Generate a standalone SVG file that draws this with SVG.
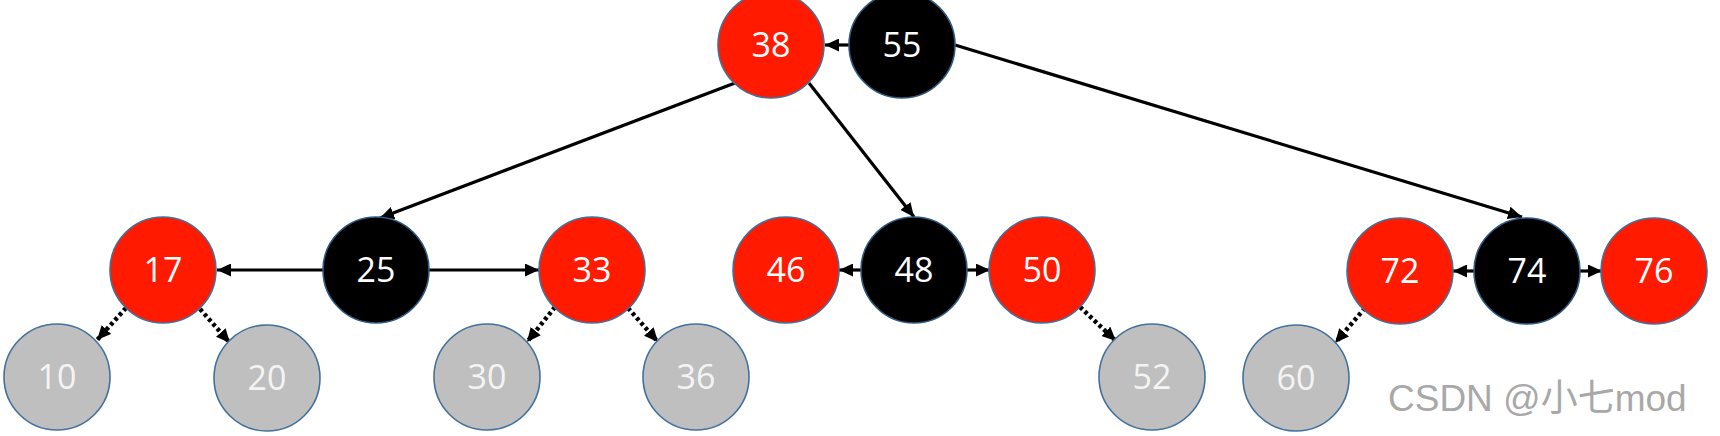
<svg xmlns="http://www.w3.org/2000/svg" width="1720" height="436" viewBox="0 0 1720 436">
<defs>
<style>
.n circle{stroke:#41719c;stroke-width:1.6}
.red circle{fill:#ff1a00}
.blk circle{fill:#000;stroke:#2e5a80}
.gry circle{fill:#bfbfbf}
.n text{font-family:"Open Sans","Noto Sans",sans-serif;font-size:34px;fill:#fff;text-anchor:middle}
.gry text{fill:#f4f4f4}
.e{stroke:#000;stroke-width:3.2;fill:none;marker-end:url(#ah)}
.d{stroke:#000;stroke-width:4.5;fill:none;stroke-dasharray:3.5 3;marker-end:url(#ah)}
.wm{font-family:"Liberation Sans","Noto Sans CJK SC",sans-serif;font-size:37px;fill:#a8a8a8}
</style>
<marker id="ah" markerUnits="userSpaceOnUse" markerWidth="15" markerHeight="13" refX="14" refY="6.5" orient="auto">
<path d="M0,0 L14,6.5 L0,13 z" fill="#000"/>
</marker>
</defs>
<rect width="1720" height="436" fill="#fff"/>
<g id="connectors">
<line class="e" x1="849" y1="45" x2="825" y2="45"/>
<line class="e" x1="735" y1="83" x2="380" y2="218"/>
<line class="e" x1="809" y1="83" x2="914" y2="217"/>
<line class="e" x1="955" y1="45" x2="1522" y2="217"/>
<line class="e" x1="324" y1="270" x2="217" y2="270"/>
<line class="e" x1="428" y1="270" x2="539" y2="270"/>
<line class="e" x1="862" y1="270" x2="839" y2="270"/>
<line class="e" x1="966" y1="270" x2="990" y2="270"/>
<line class="e" x1="1475" y1="271" x2="1453" y2="271"/>
<line class="e" x1="1579" y1="271" x2="1602" y2="271"/>
<line class="d" x1="126" y1="308" x2="97" y2="340"/>
<line class="d" x1="200" y1="309" x2="230" y2="343"/>
<line class="d" x1="555" y1="307" x2="527" y2="342"/>
<line class="d" x1="628" y1="308" x2="658" y2="342"/>
<line class="d" x1="1080" y1="307" x2="1116" y2="341"/>
<line class="d" x1="1365" y1="308" x2="1335" y2="343"/>
</g>
<g id="n38" class="n red"><circle cx="771" cy="45" r="53"/><text x="771" y="57">38</text></g>
<g id="n55" class="n blk"><circle cx="902" cy="45" r="53"/><text x="902" y="57">55</text></g>
<g id="n17" class="n red"><circle cx="163" cy="270" r="53"/><text x="163" y="282">17</text></g>
<g id="n25" class="n blk"><circle cx="376" cy="270" r="53"/><text x="376" y="282">25</text></g>
<g id="n33" class="n red"><circle cx="592" cy="270" r="53"/><text x="592" y="282">33</text></g>
<g id="n46" class="n red"><circle cx="786" cy="270" r="53"/><text x="786" y="282">46</text></g>
<g id="n48" class="n blk"><circle cx="914" cy="270" r="53"/><text x="914" y="282">48</text></g>
<g id="n50" class="n red"><circle cx="1042" cy="270" r="53"/><text x="1042" y="282">50</text></g>
<g id="n72" class="n red"><circle cx="1400" cy="271" r="53"/><text x="1400" y="283">72</text></g>
<g id="n74" class="n blk"><circle cx="1527" cy="271" r="53"/><text x="1527" y="283">74</text></g>
<g id="n76" class="n red"><circle cx="1654" cy="271" r="53"/><text x="1654" y="283">76</text></g>
<g id="n10" class="n gry"><circle cx="57" cy="377" r="53"/><text x="57" y="389">10</text></g>
<g id="n20" class="n gry"><circle cx="267" cy="378" r="53"/><text x="267" y="390">20</text></g>
<g id="n30" class="n gry"><circle cx="487" cy="377" r="53"/><text x="487" y="389">30</text></g>
<g id="n36" class="n gry"><circle cx="696" cy="377" r="53"/><text x="696" y="389">36</text></g>
<g id="n52" class="n gry"><circle cx="1152" cy="377" r="53"/><text x="1152" y="389">52</text></g>
<g id="n60" class="n gry"><circle cx="1296" cy="378" r="53"/><text x="1296" y="390">60</text></g>
<text class="wm" x="1388" y="411">CSDN @小七mod</text>
</svg>
